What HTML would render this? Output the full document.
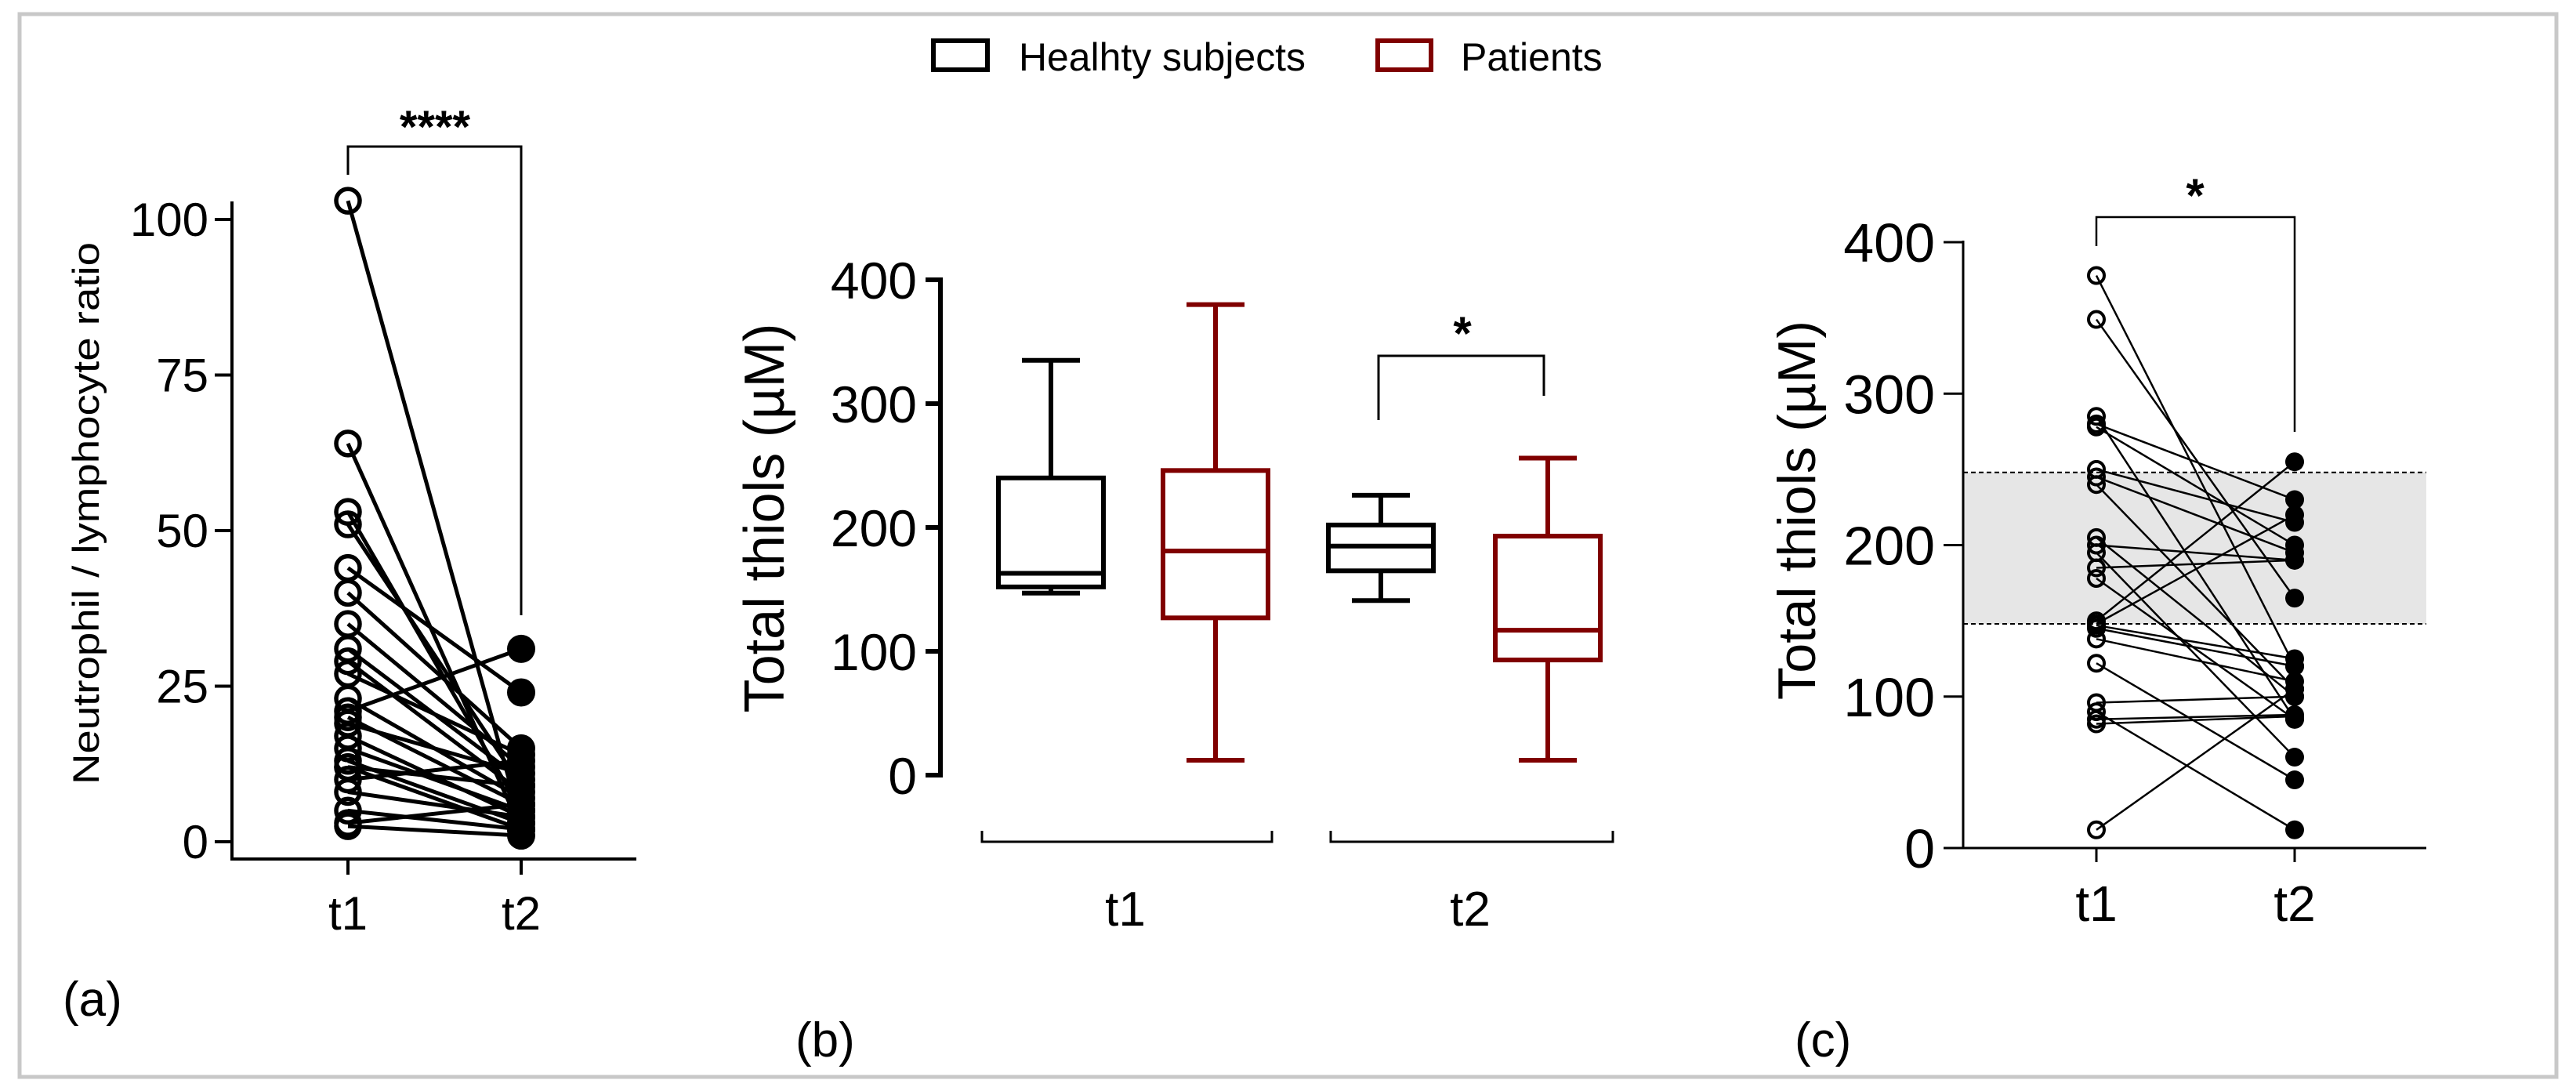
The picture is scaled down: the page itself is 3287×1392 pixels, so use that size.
<!DOCTYPE html>
<html><head><meta charset="utf-8">
<style>
html,body{margin:0;padding:0;background:#fff;}
svg{display:block;font-family:"Liberation Sans",Arial,sans-serif;}
</style></head>
<body>
<svg id="fig" width="3287" height="1392" viewBox="0 0 3287 1392" xmlns="http://www.w3.org/2000/svg">
<rect x="25" y="18" width="3237" height="1356" fill="#fff" stroke="#c8c8c8" stroke-width="5"/>
<g>
 <rect x="1191" y="52" width="69" height="37" fill="none" stroke="#000" stroke-width="6"/>
 <text x="1300" y="90" font-size="50" textLength="366" lengthAdjust="spacingAndGlyphs">Healhty subjects</text>
 <rect x="1758" y="52" width="68" height="37" fill="none" stroke="#800000" stroke-width="6"/>
 <text x="1864" y="90" font-size="50">Patients</text>
</g>
<g id="pa"></g>
<g id="pb"></g>
<g id="pc"></g>
</svg>
<script>
// Panel a data (neutrophil/lymphocyte ratio, paired t1 -> t2)
const nlrT1 = [103, 64, 53, 51, 44, 40, 35, 31, 29, 27, 23, 21, 20, 19, 17, 15, 13, 12, 12, 10, 8, 5, 3, 2.5];
const nlrT2 = [3, 2, 5, 9, 24, 15, 12, 10, 8, 14, 7, 31, 6, 11, 4, 5, 3, 9, 2, 13, 4, 2, 6, 1];
const nlrTicks = [0, 25, 50, 75, 100];
// Panel b data (box plots): [whiskerLow, q1, median, q3, whiskerHigh]
const boxGroups = ["t1", "t2"];
const healthyStats = [[147, 152, 163, 240, 335], [141, 165, 185, 202, 226]];
const patientStats = [[12, 127, 181, 246, 380], [12, 93, 117, 193, 256]];
const thiolTicks = [0, 100, 200, 300, 400];
// Panel c data (total thiols, paired)
const thiolT1 = [378, 349, 285, 280, 278, 250, 245, 240, 205, 200, 195, 185, 178, 150, 148, 147, 145, 138, 122, 96, 90, 85, 82, 12];
const thiolT2 = [120, 165, 85, 230, 200, 215, 195, 105, 100, 190, 60, 190, 85, 255, 220, 125, 120, 110, 45, 100, 12, 88, 87, 105];
const refBand = [148, 248];

const NS = "http://www.w3.org/2000/svg";
function mk(parent, tag, attrs, text) {
  const e = document.createElementNS(NS, tag);
  for (const k in attrs) e.setAttribute(k, attrs[k]);
  if (text !== undefined) e.textContent = text;
  parent.appendChild(e);
  return e;
}
function lin(d0, d1, r0, r1) { return v => r0 + (v - d0) * (r1 - r0) / (d1 - d0); }

// ---------- Panel a ----------
(function () {
  const g = document.getElementById('pa');
  const y = lin(0, 100, 1074, 280);
  const xT1 = 444, xT2 = 665, ax = 296;
  let e;
  e = mk(g, 'line', {x1: ax, y1: 257, x2: ax, y2: 1098, stroke: '#000', 'stroke-width': 4});
   
  e = mk(g, 'line', {x1: ax - 2, y1: 1096, x2: 812, y2: 1096, stroke: '#000', 'stroke-width': 4});
   
  nlrTicks.forEach(t => {
    e = mk(g, 'line', {x1: 274, y1: y(t), x2: ax, y2: y(t), stroke: '#000', 'stroke-width': 4});
     
    e = mk(g, 'text', {x: 266, y: y(t) + 21, 'font-size': 60, 'text-anchor': 'end'}, String(t));
     
  });
  [[xT1, 't1'], [xT2, 't2']].forEach(([x, l]) => {
    e = mk(g, 'line', {x1: x, y1: 1096, x2: x, y2: 1116, stroke: '#000', 'stroke-width': 4});
     
    e = mk(g, 'text', {x: x, y: 1186, 'font-size': 60, 'text-anchor': 'middle'}, l);
     
  });
  e = mk(g, 'text', {x: 0, y: 0, 'font-size': 47, 'text-anchor': 'middle', textLength: 692, lengthAdjust: 'spacingAndGlyphs', transform: 'translate(126,655) rotate(-90)'}, 'Neutrophil / lymphocyte ratio');
   
  nlrT1.forEach((v, i) => {
    e = mk(g, 'line', {x1: xT1, y1: y(v), x2: xT2, y2: y(nlrT2[i]), stroke: '#000', 'stroke-width': 5});
     
  });
  nlrT1.forEach(v => {
    e = mk(g, 'circle', {cx: xT1, cy: y(v), r: 15, fill: 'none', stroke: '#000', 'stroke-width': 5.5});
     
  });
  nlrT2.forEach(v => {
    e = mk(g, 'circle', {cx: xT2, cy: y(v), r: 18, fill: '#000'});
     
  });
  e = mk(g, 'path', {d: `M${xT1},223 V187 H${xT2} V785`, fill: 'none', stroke: '#000', 'stroke-width': 3});
   
  e = mk(g, 'text', {x: 555, y: 182, 'font-size': 58, 'font-weight': 'bold', 'text-anchor': 'middle'}, '****');
   
  e = mk(g, 'text', {x: 80, y: 1296, 'font-size': 62}, '(a)');
   
})();

// ---------- Panel b ----------
(function () {
  const g = document.getElementById('pb');
  const y = lin(0, 400, 989, 357);
  const ax = 1200;
  let e;
  e = mk(g, 'line', {x1: ax, y1: 354, x2: ax, y2: 992, stroke: '#000', 'stroke-width': 6});
   
  thiolTicks.forEach(t => {
    e = mk(g, 'line', {x1: 1181, y1: y(t), x2: ax, y2: y(t), stroke: '#000', 'stroke-width': 6});
     
    e = mk(g, 'text', {x: 1170, y: y(t) + 24, 'font-size': 66, 'text-anchor': 'end'}, String(t));
     
  });
  e = mk(g, 'text', {x: 0, y: 0, 'font-size': 72, 'text-anchor': 'middle', textLength: 497, lengthAdjust: 'spacingAndGlyphs', transform: 'translate(1000,661) rotate(-90)'}, 'Total thiols  (\u00b5M)');
   
  const bw = 134;
  const hsX = [1341, 1762], ptX = [1551, 1975];
  function box(stats, cx, color, name) {
    const [lo, q1, md, q3, hi] = stats;
    const bg = mk(g, 'g', {stroke: color, 'stroke-width': 6, fill: 'none'});
     
    e = mk(bg, 'line', {x1: cx, y1: y(hi), x2: cx, y2: y(q3)});
     
    e = mk(bg, 'line', {x1: cx, y1: y(q1), x2: cx, y2: y(lo)});
     
    e = mk(bg, 'line', {x1: cx - 37, y1: y(hi), x2: cx + 37, y2: y(hi)});
     
    e = mk(bg, 'line', {x1: cx - 37, y1: y(lo), x2: cx + 37, y2: y(lo)});
     
    e = mk(bg, 'rect', {x: cx - bw / 2, y: y(q3), width: bw, height: y(q1) - y(q3)});
     
    e = mk(bg, 'line', {x1: cx - bw / 2, y1: y(md), x2: cx + bw / 2, y2: y(md)});
     
  }
  boxGroups.forEach((lab, i) => {
    box(healthyStats[i], hsX[i], '#000', 'box-healthy-' + lab);
    box(patientStats[i], ptX[i], '#800000', 'box-patients-' + lab);
  });
  const spans = [[1253, 1623], [1698, 2058]];
  boxGroups.forEach((lab, i) => {
    const [a, b] = spans[i];
    e = mk(g, 'path', {d: `M${a},1060 V1074 H${b} V1060`, fill: 'none', stroke: '#000', 'stroke-width': 3});
     
    e = mk(g, 'text', {x: (a + b) / 2 - 2, y: 1181, 'font-size': 62, 'text-anchor': 'middle'}, lab);
     
  });
  e = mk(g, 'path', {d: 'M1759,536 V454 H1970 V505', fill: 'none', stroke: '#000', 'stroke-width': 3});
   
  e = mk(g, 'text', {x: 1866, y: 446, 'font-size': 60, 'font-weight': 'bold', 'text-anchor': 'middle'}, '*');
   
  e = mk(g, 'text', {x: 1015, y: 1348, 'font-size': 62}, '(b)');
   
})();

// ---------- Panel c ----------
(function () {
  const g = document.getElementById('pc');
  const y = lin(0, 400, 1082, 309);
  const ax = 2505, xT1 = 2675, xT2 = 2928, xEnd = 3096;
  let e;
  e = mk(g, 'rect', {x: ax, y: y(refBand[1]), width: xEnd - ax, height: y(refBand[0]) - y(refBand[1]), fill: '#e6e6e6'});
   
  refBand.forEach(v => {
    e = mk(g, 'line', {x1: ax, y1: y(v), x2: xEnd, y2: y(v), stroke: '#000', 'stroke-width': 2, 'stroke-dasharray': '6,4'});
     
  });
  e = mk(g, 'line', {x1: ax, y1: 307, x2: ax, y2: 1083, stroke: '#000', 'stroke-width': 3});
   
  e = mk(g, 'line', {x1: ax, y1: 1082, x2: xEnd, y2: 1082, stroke: '#000', 'stroke-width': 3});
   
  thiolTicks.forEach(t => {
    e = mk(g, 'line', {x1: 2480, y1: y(t), x2: ax, y2: y(t), stroke: '#000', 'stroke-width': 3});
     
    e = mk(g, 'text', {x: 2469, y: y(t) + 25, 'font-size': 70, 'text-anchor': 'end'}, String(t));
     
  });
  [[xT1, 't1'], [xT2, 't2']].forEach(([x, l]) => {
    e = mk(g, 'line', {x1: x, y1: 1082, x2: x, y2: 1100, stroke: '#000', 'stroke-width': 3});
     
    e = mk(g, 'text', {x: x, y: 1175, 'font-size': 64, 'text-anchor': 'middle'}, l);
     
  });
  e = mk(g, 'text', {x: 0, y: 0, 'font-size': 68, 'text-anchor': 'middle', textLength: 484, lengthAdjust: 'spacingAndGlyphs', transform: 'translate(2316,651) rotate(-90)'}, 'Total thiols  (\u00b5M)');
   
  thiolT1.forEach((v, i) => {
    e = mk(g, 'line', {x1: xT1, y1: y(v), x2: xT2, y2: y(thiolT2[i]), stroke: '#000', 'stroke-width': 2.5});
     
  });
  thiolT1.forEach(v => {
    e = mk(g, 'circle', {cx: xT1, cy: y(v), r: 10, fill: 'none', stroke: '#000', 'stroke-width': 4});
     
  });
  thiolT2.forEach(v => {
    e = mk(g, 'circle', {cx: xT2, cy: y(v), r: 12, fill: '#000'});
     
  });
  e = mk(g, 'path', {d: `M${xT1},314 V277 H${xT2} V551`, fill: 'none', stroke: '#000', 'stroke-width': 2.5});
   
  e = mk(g, 'text', {x: 2801, y: 270, 'font-size': 60, 'font-weight': 'bold', 'text-anchor': 'middle'}, '*');
   
  e = mk(g, 'text', {x: 2290, y: 1348, 'font-size': 62}, '(c)');
   
})();
</script>
</body></html>
